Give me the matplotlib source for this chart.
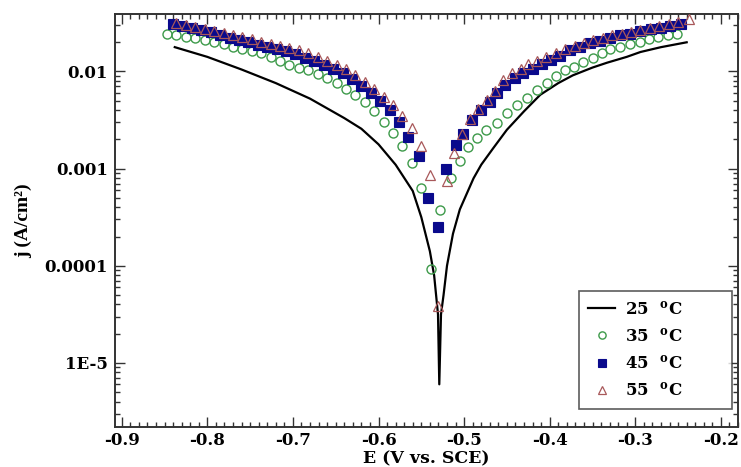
import numpy as np
import matplotlib
matplotlib.use("Agg")
import matplotlib.pyplot as plt
from matplotlib.ticker import FixedLocator, FixedFormatter, LogLocator, MultipleLocator, NullFormatter

plt.rcParams['font.family'] = ['DejaVu Serif']
plt.rcParams['font.weight'] = 'bold'
plt.rcParams['mathtext.fontset'] = 'custom'
plt.rcParams['mathtext.rm'] = 'DejaVu Serif:bold'
plt.rcParams['mathtext.it'] = 'DejaVu Serif:bold'
plt.rcParams['mathtext.bf'] = 'DejaVu Serif:bold'

# ---- data (log10 of current density) ----
E_25 = [-0.838, -0.80, -0.76, -0.72, -0.68, -0.64, -0.62, -0.60, -0.58, -0.56,
        -0.55, -0.54, -0.535, -0.5305, -0.529, -0.527, -0.524, -0.520, -0.513,
        -0.505, -0.496, -0.489, -0.48, -0.466, -0.45, -0.43, -0.411, -0.39,
        -0.373, -0.35, -0.333, -0.31, -0.294, -0.27, -0.24]
logj_25 = [-1.75, -1.85, -1.98, -2.12, -2.28, -2.48, -2.59, -2.75, -2.96, -3.23,
           -3.50, -3.85, -4.10, -4.50, -5.22, -4.50, -4.30, -4.00, -3.67,
           -3.42, -3.24, -3.10, -2.96, -2.79, -2.60, -2.41, -2.24, -2.12,
           -2.04, -1.96, -1.91, -1.85, -1.80, -1.75, -1.70]

E_35 = [-0.847, -0.836, -0.825, -0.814, -0.803, -0.792, -0.781, -0.770, -0.759,
        -0.748, -0.737, -0.726, -0.715, -0.704, -0.693, -0.682, -0.671, -0.660,
        -0.649, -0.638, -0.627, -0.616, -0.605, -0.594, -0.583, -0.572, -0.561,
        -0.550, -0.539, -0.528, -0.515, -0.505, -0.495, -0.485, -0.474, -0.462,
        -0.450, -0.438, -0.426, -0.415, -0.403, -0.393, -0.382, -0.372, -0.361,
        -0.350, -0.339, -0.329, -0.318, -0.306, -0.295, -0.284, -0.273, -0.262,
        -0.251]
logj_35 = [-1.61, -1.63, -1.645, -1.66, -1.68, -1.70, -1.72, -1.745, -1.77,
           -1.79, -1.815, -1.85, -1.89, -1.93, -1.96, -1.99, -2.03, -2.07,
           -2.12, -2.18, -2.24, -2.31, -2.41, -2.52, -2.63, -2.77, -2.94,
           -3.20, -4.03, -3.43, -3.10, -2.92, -2.78, -2.69, -2.60, -2.53,
           -2.43, -2.35, -2.27, -2.19, -2.12, -2.05, -1.99, -1.95, -1.90,
           -1.86, -1.81, -1.77, -1.75, -1.72, -1.70, -1.67, -1.65, -1.63,
           -1.61]

E_45 = [-0.840, -0.829, -0.818, -0.807, -0.796, -0.785, -0.774, -0.763, -0.752,
        -0.741, -0.730, -0.719, -0.708, -0.697, -0.686, -0.675, -0.664, -0.653,
        -0.642, -0.631, -0.620, -0.609, -0.598, -0.587, -0.576, -0.565, -0.553,
        -0.542, -0.531, -0.521, -0.510, -0.501, -0.491, -0.480, -0.470, -0.461,
        -0.452, -0.441, -0.431, -0.420, -0.409, -0.399, -0.388, -0.376, -0.365,
        -0.353, -0.341, -0.329, -0.318, -0.306, -0.294, -0.282, -0.270, -0.259,
        -0.247]
logj_45 = [-1.51, -1.53, -1.55, -1.57, -1.59, -1.63, -1.655, -1.68, -1.70,
           -1.725, -1.75, -1.77, -1.79, -1.82, -1.86, -1.89, -1.93, -1.97,
           -2.02, -2.08, -2.15, -2.22, -2.30, -2.40, -2.52, -2.67, -2.87,
           -3.30, -3.60, -3.00, -2.76, -2.64, -2.50, -2.40, -2.31, -2.22,
           -2.14, -2.07, -2.02, -1.97, -1.92, -1.88, -1.84, -1.78, -1.75,
           -1.71, -1.69, -1.66, -1.63, -1.61, -1.58, -1.565, -1.55, -1.53,
           -1.51]

E_55 = [-0.836, -0.825, -0.814, -0.803, -0.792, -0.781, -0.770, -0.759, -0.748,
        -0.737, -0.726, -0.715, -0.704, -0.693, -0.682, -0.671, -0.660, -0.649,
        -0.638, -0.627, -0.616, -0.605, -0.594, -0.583, -0.572, -0.561, -0.550,
        -0.540, -0.531, -0.520, -0.512, -0.502, -0.493, -0.484, -0.473, -0.464,
        -0.454, -0.444, -0.434, -0.425, -0.415, -0.404, -0.393, -0.382, -0.371,
        -0.360, -0.349, -0.338, -0.327, -0.316, -0.305, -0.294, -0.283, -0.272,
        -0.261, -0.250, -0.237]
logj_55 = [-1.50, -1.52, -1.54, -1.56, -1.58, -1.60, -1.62, -1.645, -1.67,
           -1.695, -1.72, -1.74, -1.76, -1.78, -1.81, -1.85, -1.89, -1.93,
           -1.98, -2.04, -2.11, -2.18, -2.26, -2.35, -2.46, -2.58, -2.77,
           -3.07, -4.41, -3.13, -2.84, -2.64, -2.49, -2.39, -2.29, -2.20,
           -2.09, -2.02, -1.98, -1.92, -1.89, -1.85, -1.81, -1.77, -1.74,
           -1.71, -1.68, -1.66, -1.63, -1.61, -1.59, -1.57, -1.55, -1.53,
           -1.51, -1.49, -1.46]

labels = ['25  $^{\\mathregular{o}}$C', '35  $^{\\mathregular{o}}$C',
          '45  $^{\\mathregular{o}}$C', '55  $^{\\mathregular{o}}$C']
x_ticks = [-0.9, -0.8, -0.7, -0.6, -0.5, -0.4, -0.3, -0.2]
x_ticklabels = ['-0.9', '-0.8', '-0.7', '-0.6', '-0.5', '-0.4', '-0.3', '-0.2']
y_ticks = [1e-5, 1e-4, 1e-3, 1e-2]
y_ticklabels = ['1E-5', '0.0001', '0.001', '0.01']

fig = plt.figure(figsize=(7.41, 4.67), dpi=100)
ax = fig.add_axes([0.155, 0.086, 0.841, 0.884])

ax.plot(E_25, 10 ** np.array(logj_25), color='black', lw=1.6, label=labels[0], zorder=3)
ax.plot(E_35, 10 ** np.array(logj_35), ls='none', marker='o', ms=6.5, mfc='none',
        mec='#3d9a4a', mew=1.0, label=labels[1], zorder=4)
ax.plot(E_45, 10 ** np.array(logj_45), ls='none', marker='s', ms=7, mfc='#0a0a8c',
        mec='#0a0a8c', mew=0.8, label=labels[2], zorder=5)
ax.plot(E_55, 10 ** np.array(logj_55), ls='none', marker='^', ms=7.5, mfc='none',
        mec='#a8585a', mew=0.9, label=labels[3], zorder=6)

ax.set_yscale('log')
ax.set_xlim(-0.908, -0.18)
ax.set_ylim(2.2e-6, 0.039)

ax.xaxis.set_major_locator(FixedLocator(x_ticks))
ax.xaxis.set_major_formatter(FixedFormatter(x_ticklabels))
ax.xaxis.set_minor_locator(MultipleLocator(0.01))
ax.yaxis.set_major_locator(FixedLocator(y_ticks))
ax.yaxis.set_major_formatter(FixedFormatter(y_ticklabels))
ax.yaxis.set_minor_locator(LogLocator(base=10, subs=np.arange(2, 10) * 1.0, numticks=20))
ax.yaxis.set_minor_formatter(NullFormatter())

ax.tick_params(which='both', direction='in', top=True, right=True, labelsize=12,
               width=1.0, color='#333333')
ax.tick_params(which='major', length=7)
ax.tick_params(which='minor', length=3.5)
ax.tick_params(axis='y', which='major', pad=5)
for lab in ax.get_xticklabels() + ax.get_yticklabels():
    lab.set_fontweight('bold')
for sp in ax.spines.values():
    sp.set_linewidth(1.4)
    sp.set_color('#333333')

ax.set_xlabel('E (V vs. SCE)', fontsize=12.5, fontweight='bold', labelpad=1)
ax.set_ylabel('j (A/cm\u00b2)', fontsize=14, fontweight='bold', labelpad=9,
              family=['Liberation Serif', 'DejaVu Serif'])

leg = ax.legend(loc='lower left', bbox_to_anchor=(0.745, 0.044, 0.245, 0.285),
                mode='expand', fontsize=12, frameon=True, fancybox=False,
                edgecolor='#333333', handlelength=1.6, handletextpad=0.6,
                borderpad=0.55, labelspacing=0.55, markerscale=0.8, borderaxespad=0)
leg.get_frame().set_linewidth(1.2)
for t in leg.get_texts():
    t.set_fontweight('bold')

fig.savefig('out.png', dpi=100)
